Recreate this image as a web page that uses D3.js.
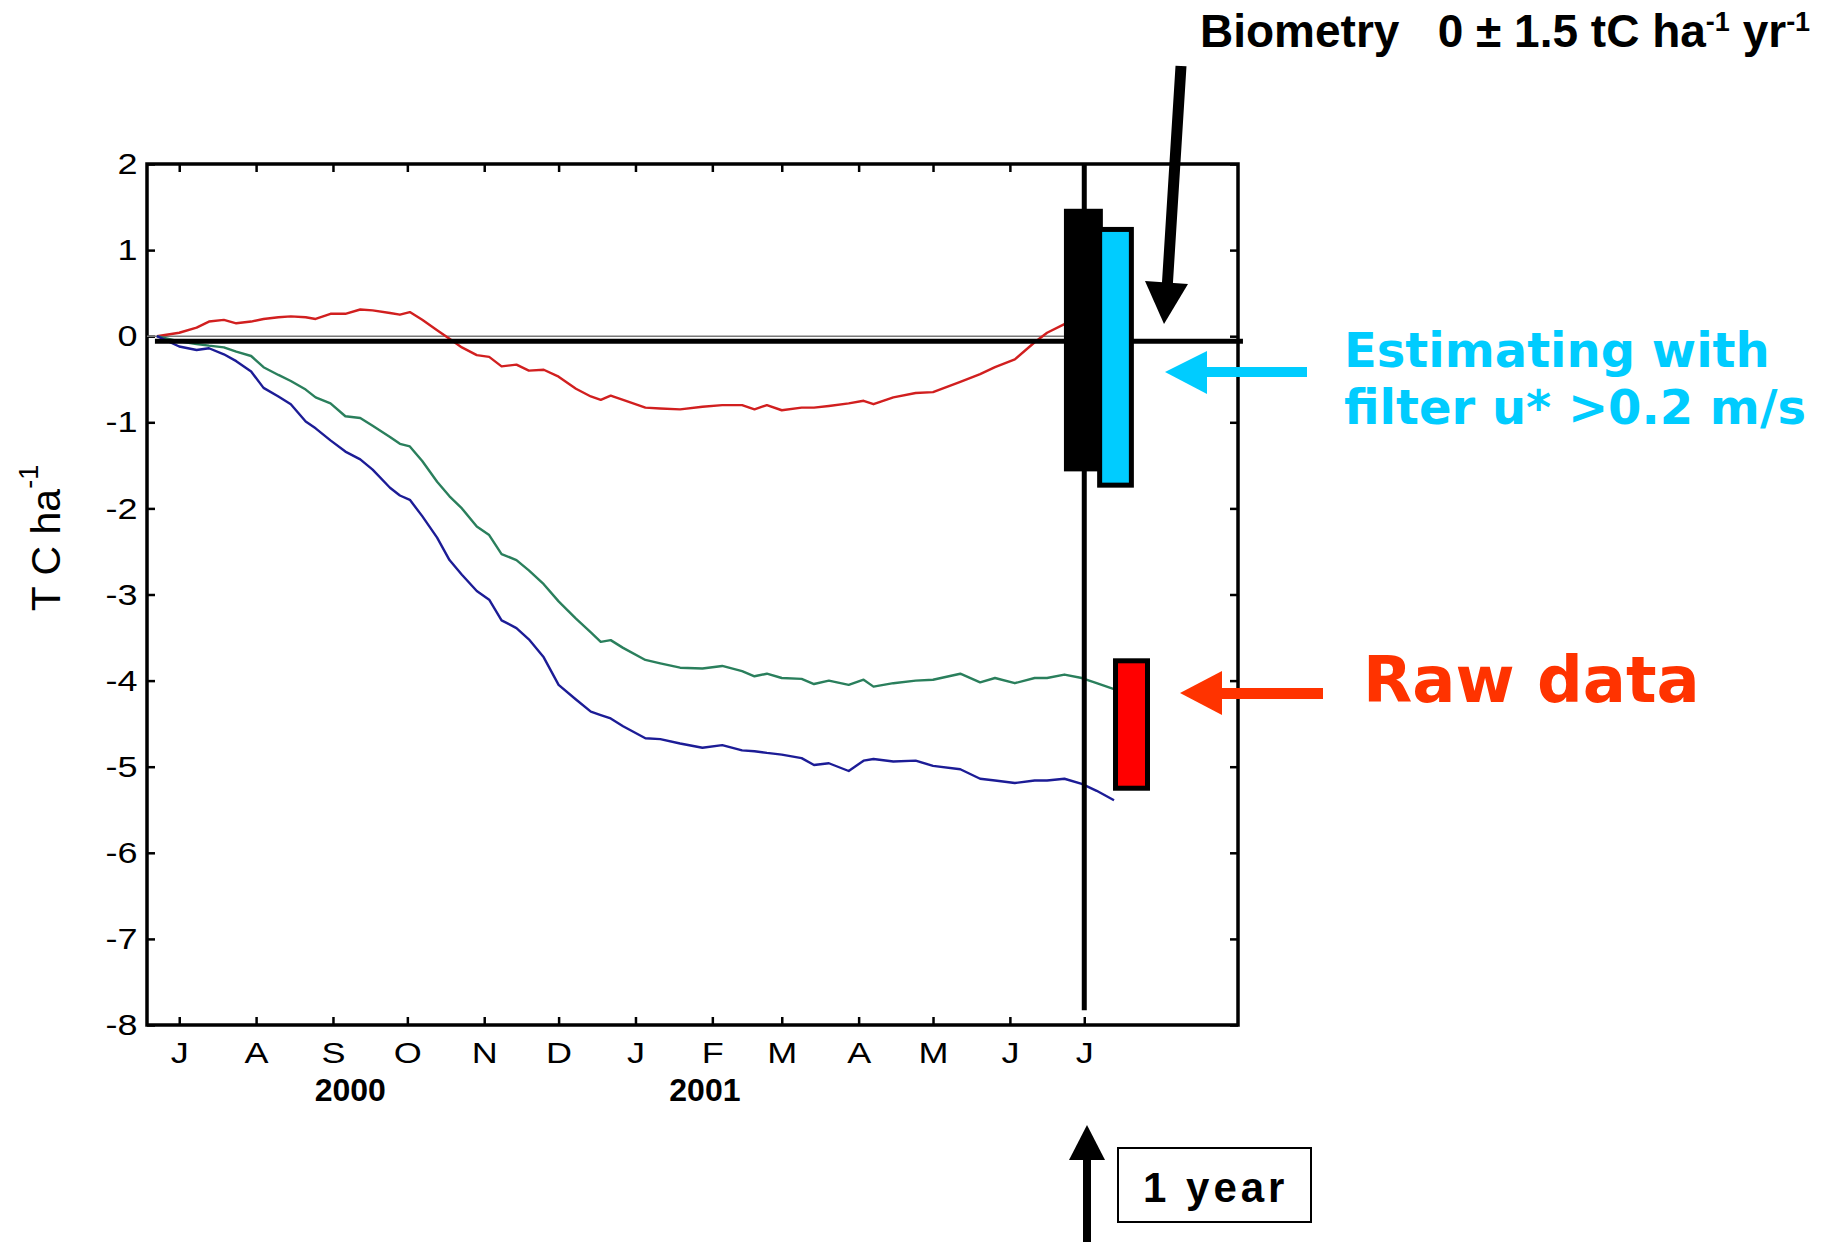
<!DOCTYPE html>
<html>
<head>
<meta charset="utf-8">
<script src="https://cdn.jsdelivr.net/npm/d3@7"></script>
<style>
  body { margin: 0; background: #fff; }
  svg text { font-family: "Liberation Sans", Arial, sans-serif; }
</style>
</head>
<body>
<div id="chart"></div>
<script>
// days since 1 Jul 2000
const days = [-9, 0, 7, 12, 18, 23, 29, 34, 40, 45, 51, 55, 61, 67, 73, 78, 85, 89, 93, 98,
    104, 109, 114, 120, 125, 130, 136, 141, 147, 153, 160, 166, 170, 174, 179, 188, 194, 202,
    211, 219, 227, 232, 237, 243, 251, 256, 262, 270, 276, 280, 288, 297, 304, 315, 323, 329,
    337, 345, 350, 357, 364, 370, 377];

// cumulative carbon, t C ha-1
const redSeries = [0.00, 0.04, 0.10, 0.17, 0.19, 0.15, 0.17, 0.20, 0.22, 0.23, 0.22, 0.20, 0.26,
    0.26, 0.31, 0.30, 0.27, 0.25, 0.28, 0.19, 0.07, -0.03, -0.13, -0.22, -0.24, -0.35, -0.33,
    -0.40, -0.39, -0.47, -0.61, -0.70, -0.74, -0.69, -0.74, -0.83, -0.84, -0.85, -0.82, -0.80,
    -0.80, -0.85, -0.80, -0.86, -0.83, -0.83, -0.81, -0.78, -0.75, -0.79, -0.71, -0.66, -0.65,
    -0.53, -0.44, -0.36, -0.27, -0.07, 0.04, 0.14, 0.22, 0.27, 0.30];

const greenSeries = [0.00, -0.06, -0.09, -0.11, -0.13, -0.18, -0.23, -0.36, -0.45, -0.52, -0.62,
    -0.71, -0.78, -0.93, -0.95, -1.04, -1.17, -1.25, -1.28, -1.45, -1.69, -1.86, -2.00, -2.21,
    -2.31, -2.53, -2.60, -2.72, -2.88, -3.08, -3.28, -3.44, -3.55, -3.53, -3.62, -3.76, -3.80,
    -3.85, -3.86, -3.83, -3.89, -3.95, -3.92, -3.97, -3.98, -4.04, -4.00, -4.05, -3.99, -4.07,
    -4.03, -4.00, -3.99, -3.92, -4.02, -3.97, -4.03, -3.97, -3.97, -3.93, -3.97, -4.03, -4.10];

const blueSeries = [0.00, -0.12, -0.16, -0.14, -0.21, -0.29, -0.41, -0.60, -0.70, -0.79, -0.99,
    -1.07, -1.21, -1.34, -1.43, -1.55, -1.76, -1.85, -1.90, -2.09, -2.34, -2.60, -2.77, -2.96,
    -3.06, -3.30, -3.39, -3.52, -3.73, -4.05, -4.22, -4.36, -4.40, -4.44, -4.53, -4.67, -4.68,
    -4.73, -4.78, -4.75, -4.81, -4.82, -4.84, -4.86, -4.90, -4.98, -4.96, -5.05, -4.93, -4.91,
    -4.94, -4.93, -4.99, -5.03, -5.14, -5.16, -5.19, -5.16, -5.16, -5.14, -5.20, -5.28, -5.39];

const yTicks = [2, 1, 0, -1, -2, -3, -4, -5, -6, -7, -8];
const monthInitials = ['J', 'F', 'M', 'A', 'M', 'J', 'J', 'A', 'S', 'O', 'N', 'D'];
const yearLabels = ['2000', '2001'];
const yearDays = [69, 212];

// annual estimates (days since 1 Jul 2000, t C ha-1)
const barNames = ['biometry', 'ustar', 'raw'];
const barStart = [356.8, 371.2, 377.6];
const barEnd = [372.5, 384.0, 390.5];
const barLow = [-1.57, -1.73, -5.25];
const barHigh = [1.48, 1.24, -3.77];

const baseDate = Date.UTC(2000, 6, 1);
const toDate = d => new Date(baseDate + d * 864e5);

const margin = {top: 164, right: 595, bottom: 217, left: 147};
const width = 1833 - margin.left - margin.right;
const height = 1242 - margin.top - margin.bottom;

const svg = d3.select('#chart')
    .append('svg')
        .attr('width', 1833)
        .attr('height', 1242)
        .style('background', '#fff');

const g = svg.append('g')
    .attr('transform', `translate(${margin.left},${margin.top})`);

const xScale = d3.scaleUtc()
    .domain([new Date(Date.UTC(2000, 5, 18)), new Date(Date.UTC(2001, 8, 1))])
    .range([0, width]);

const yScale = d3.scaleLinear()
    .domain([-8, 2])
    .range([height, 0]);

const monthTicks = d3.utcMonth.range(new Date(Date.UTC(2000, 6, 1)), new Date(Date.UTC(2001, 6, 2)));

// X axis
g.append('g')
    .attr('class', 'xaxis')
    .attr('transform', `translate(0,${height})`)
    .call(d3.axisBottom(xScale)
        .tickValues(monthTicks)
        .tickFormat(d => monthInitials[d.getUTCMonth()])
        .tickSizeInner(-8)
        .tickSizeOuter(0)
        .tickPadding(17));

g.append('g')
    .attr('class', 'xaxis')
    .call(d3.axisTop(xScale)
        .tickValues(monthTicks)
        .tickFormat('')
        .tickSizeInner(-8)
        .tickSizeOuter(0));

// Y axis
g.append('g')
    .attr('class', 'yaxis')
    .call(d3.axisLeft(yScale)
        .tickValues(yTicks)
        .tickFormat(d => d)
        .tickSizeInner(-8)
        .tickSizeOuter(0)
        .tickPadding(8));

g.append('g')
    .attr('class', 'yaxis')
    .attr('transform', `translate(${width},0)`)
    .call(d3.axisRight(yScale)
        .tickValues(yTicks)
        .tickFormat('')
        .tickSizeInner(-8)
        .tickSizeOuter(0));

g.selectAll('.domain').remove();
g.selectAll('.tick line').attr('stroke', '#000').attr('stroke-width', 2.5);
// the original figure was stretched sideways
g.selectAll('.tick text')
    .attr('fill', '#000')
    .attr('transform', 'scale(1.2,1)')
    .style('font-family', '"Liberation Sans", Arial, sans-serif')
    .style('font-size', '30px');

g.append('rect')
    .attr('width', width)
    .attr('height', height)
    .attr('fill', 'none')
    .attr('stroke', '#000')
    .attr('stroke-width', 3.5);

// year labels
g.selectAll('.year')
    .data(yearLabels)
    .enter()
    .append('text')
        .attr('class', 'year')
        .attr('x', (d, i) => xScale(toDate(yearDays[i])))
        .attr('y', height + 76)
        .attr('text-anchor', 'middle')
        .attr('font-weight', 'bold')
        .attr('font-size', '32px')
        .text(d => d);

// y label
const yLabel = svg.append('text')
    .attr('transform', 'translate(60,538) rotate(-90)')
    .attr('text-anchor', 'middle')
    .attr('font-size', '41px')
    .text('T C ha');
yLabel.append('tspan')
    .attr('dy', '-0.8em')
    .attr('font-size', '27px')
    .text('-1');

// zero reference
g.append('line')
    .attr('x1', 0)
    .attr('x2', xScale(toDate(barStart[0])))
    .attr('y1', yScale(0))
    .attr('y2', yScale(0))
    .attr('stroke', '#777')
    .attr('stroke-width', 1.5);

// series
const line = d3.line()
    .x((d, i) => xScale(toDate(days[i])))
    .y(d => yScale(d));

const seriesList = [
    {values: redSeries, color: '#d11f1f'},
    {values: greenSeries, color: '#2a7f5c'},
    {values: blueSeries, color: '#1c1c96'}
];

g.selectAll('.series')
    .data(seriesList)
    .enter()
    .append('path')
        .attr('class', 'series')
        .attr('d', d => line(d.values))
        .attr('fill', 'none')
        .attr('stroke', d => d.color)
        .attr('stroke-width', 2.4)
        .attr('stroke-linejoin', 'round');

// thick reference line
g.append('line')
    .attr('x1', xScale(toDate(-9.8)))
    .attr('x2', xScale(toDate(429)))
    .attr('y1', yScale(-0.06))
    .attr('y2', yScale(-0.06))
    .attr('stroke', '#000')
    .attr('stroke-width', 5);

// one year mark
g.append('line')
    .attr('x1', xScale(toDate(365)))
    .attr('x2', xScale(toDate(365)))
    .attr('y1', yScale(2))
    .attr('y2', yScale(-7.83))
    .attr('stroke', '#000')
    .attr('stroke-width', 5);

// bars
const barFill = {biometry: '#000', ustar: '#00ccff', raw: '#ff0000'};
g.selectAll('.bar')
    .data(barNames)
    .enter()
    .append('rect')
        .attr('class', 'bar')
        .attr('x', (d, i) => xScale(toDate(barStart[i])))
        .attr('width', (d, i) => xScale(toDate(barEnd[i])) - xScale(toDate(barStart[i])))
        .attr('y', (d, i) => yScale(barHigh[i]))
        .attr('height', (d, i) => yScale(barLow[i]) - yScale(barHigh[i]))
        .attr('fill', d => barFill[d])
        .attr('stroke', '#000')
        .attr('stroke-width', d => d == 'biometry' ? 0 : 5);

// annotations
svg.append('line')
    .attr('x1', 1181).attr('y1', 66)
    .attr('x2', 1167).attr('y2', 290)
    .attr('stroke', '#000')
    .attr('stroke-width', 11);
svg.append('polygon')
    .attr('points', '1145,281 1188,284 1164,324')
    .attr('fill', '#000');

svg.append('rect')
    .attr('x', 1200).attr('y', 367)
    .attr('width', 107).attr('height', 10)
    .attr('fill', '#00ccff');
svg.append('polygon')
    .attr('points', '1165,372 1207,351 1207,394')
    .attr('fill', '#00ccff');

svg.append('rect')
    .attr('x', 1215).attr('y', 688)
    .attr('width', 108).attr('height', 11)
    .attr('fill', '#ff3300');
svg.append('polygon')
    .attr('points', '1180,693 1222,671 1222,715')
    .attr('fill', '#ff3300');

svg.append('rect')
    .attr('x', 1083).attr('y', 1155)
    .attr('width', 8).attr('height', 90)
    .attr('fill', '#000');
svg.append('polygon')
    .attr('points', '1087,1125 1069,1160 1105,1160')
    .attr('fill', '#000');

svg.append('rect')
    .attr('x', 1118).attr('y', 1148)
    .attr('width', 193).attr('height', 74)
    .attr('fill', 'none')
    .attr('stroke', '#000')
    .attr('stroke-width', 2);
svg.append('text')
    .attr('x', 1143).attr('y', 1202)
    .attr('font-size', '42px')
    .attr('font-weight', 'bold')
    .attr('letter-spacing', '4px')
    .text('1 year');

const bio = svg.append('text')
    .attr('x', 1200).attr('y', 47)
    .attr('font-size', '46px')
    .attr('font-weight', 'bold');
bio.append('tspan').text('Biometry\u00a0\u00a0\u00a00 \u00b1 1.5 tC ha');
bio.append('tspan').attr('dy', '-16').attr('font-size', '27px').text('-1');
bio.append('tspan').attr('dy', '16').text(' yr');
bio.append('tspan').attr('dy', '-16').attr('font-size', '27px').text('-1');

const est = svg.append('text')
    .style('font-family', '"DejaVu Sans", Verdana, sans-serif')
    .attr('font-size', '48px')
    .attr('font-weight', 'bold')
    .attr('fill', '#00ccff');
est.append('tspan').attr('x', 1344).attr('y', 367).text('Estimating with');
est.append('tspan').attr('x', 1344).attr('y', 424).text('filter u* >0.2 m/s');

svg.append('text')
    .attr('x', 1363).attr('y', 702)
    .style('font-family', '"DejaVu Sans", Verdana, sans-serif')
    .attr('font-size', '64px')
    .attr('font-weight', 'bold')
    .attr('fill', '#ff3300')
    .text('Raw data');
</script>
</body>
</html>
